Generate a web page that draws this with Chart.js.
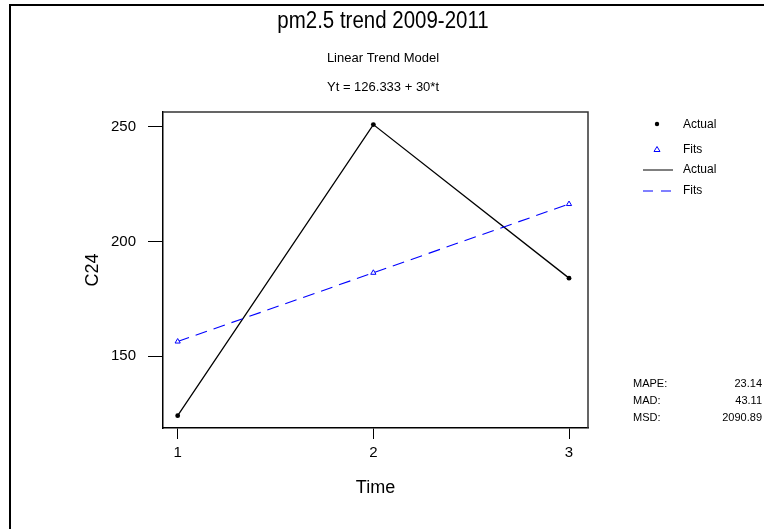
<!DOCTYPE html>
<html>
<head>
<meta charset="utf-8">
<script src="https://cdn.jsdelivr.net/npm/chart.js@4.4.1/dist/chart.umd.min.js"></script>
<style>
  html, body { margin: 0; padding: 0; background: #ffffff; }
  #wrap { width: 764px; height: 529px; position: relative; }
</style>
</head>
<body>
<div id="wrap"><canvas id="trend" width="764" height="529"></canvas></div>
<script>
// Observed series and fitted linear trend (Yt = 126.333 + 30*t)
const timeIndex = [1, 2, 3];
const actualValues = [124, 251, 184];
const fitValues = [156.333, 186.333, 216.333];

// Axis ticks
const xTickValues = [1, 2, 3];
const yTickValues = [150, 200, 250];

// Titles and accuracy measures
const chartTitle = 'pm2.5 trend 2009-2011';
const modelName = 'Linear Trend Model';
const modelEquation = 'Yt = 126.333 + 30*t';
const accuracyLabels = ['MAPE:', 'MAD:', 'MSD:'];
const accuracyValues = ['23.14', '43.11', '2090.89'];
const legendLabels = ['Actual', 'Fits', 'Actual', 'Fits'];

const FONT = '"Liberation Sans", Arial, sans-serif';
const BLUE = '#0000ff';

const toPoints = (xs, ys) => xs.map((x, i) => ({ x: x, y: ys[i] }));

// Frame, titles, legend and accuracy table drawn around the plot
const decorations = {
  id: 'decorations',
  afterDraw(chart) {
    const ctx = chart.ctx;
    const a = chart.chartArea;
    ctx.save();

    // outer frame
    ctx.strokeStyle = '#000';
    ctx.lineWidth = 2;
    ctx.beginPath();
    ctx.moveTo(10, 540);
    ctx.lineTo(10, 5);
    ctx.lineTo(780, 5);
    ctx.stroke();

    // top and right edges of the plot box
    ctx.lineWidth = 1.5;
    ctx.strokeStyle = '#333';
    ctx.beginPath();
    ctx.moveTo(a.left, a.top);
    ctx.lineTo(a.right, a.top);
    ctx.lineTo(a.right, a.bottom);
    ctx.stroke();

    // titles (main title in a slightly condensed face)
    ctx.fillStyle = '#000';
    ctx.textAlign = 'center';
    ctx.textBaseline = 'alphabetic';
    ctx.save();
    ctx.translate(383, 28);
    ctx.scale(0.89, 1);
    ctx.font = '23px ' + FONT;
    ctx.fillText(chartTitle, 0, 0);
    ctx.restore();
    ctx.font = '13px ' + FONT;
    ctx.fillText(modelName, 383, 62);
    ctx.fillText(modelEquation, 383, 91);

    // legend
    ctx.textAlign = 'left';
    ctx.textBaseline = 'middle';
    ctx.font = '12px ' + FONT;
    const lx = 683;
    const rows = [125, 150, 170, 191];
    ctx.fillStyle = '#000';
    ctx.beginPath();
    ctx.arc(657, rows[0] - 1, 2.2, 0, Math.PI * 2);
    ctx.fill();
    ctx.strokeStyle = BLUE;
    ctx.lineWidth = 1;
    ctx.beginPath();
    ctx.moveTo(657, rows[1] - 3.5);
    ctx.lineTo(660, rows[1] + 1.5);
    ctx.lineTo(654, rows[1] + 1.5);
    ctx.closePath();
    ctx.stroke();
    ctx.strokeStyle = '#000';
    ctx.beginPath();
    ctx.moveTo(643, rows[2]);
    ctx.lineTo(673, rows[2]);
    ctx.stroke();
    ctx.strokeStyle = BLUE;
    ctx.setLineDash([10, 8]);
    ctx.beginPath();
    ctx.moveTo(643, rows[3]);
    ctx.lineTo(673, rows[3]);
    ctx.stroke();
    ctx.setLineDash([]);
    ctx.fillStyle = '#000';
    legendLabels.forEach((t, i) => ctx.fillText(t, lx, rows[i]));

    // accuracy measures
    ctx.font = '11px ' + FONT;
    const sy = [384, 401, 418];
    accuracyLabels.forEach((t, i) => {
      ctx.textAlign = 'left';
      ctx.fillText(t, 633, sy[i]);
      ctx.textAlign = 'right';
      ctx.fillText(accuracyValues[i], 762, sy[i]);
    });
    ctx.restore();
  }
};

new Chart(document.getElementById('trend'), {
  type: 'line',
  data: {
    datasets: [
      {
        label: 'Fits',
        data: toPoints(timeIndex, fitValues),
        borderColor: BLUE,
        borderWidth: 1.1,
        borderDash: [12, 7],
        pointStyle: 'triangle',
        pointRadius: 3,
        pointBorderColor: BLUE,
        pointBackgroundColor: '#fff',
        pointBorderWidth: 1,
        tension: 0
      },
      {
        label: 'Actual',
        data: toPoints(timeIndex, actualValues),
        borderColor: '#000',
        borderWidth: 1.3,
        pointStyle: 'circle',
        pointRadius: 2.4,
        pointBorderWidth: 0,
        pointBackgroundColor: '#000',
        tension: 0
      }
    ]
  },
  options: {
    responsive: false,
    animation: false,
    layout: { padding: { left: 72, top: 112, right: 176, bottom: 29 } },
    plugins: { legend: { display: false }, tooltip: { enabled: false } },
    scales: {
      x: {
        type: 'linear',
        min: 0.925,
        max: 3.097,
        afterBuildTicks: s => { s.ticks = xTickValues.map(v => ({ value: v })); },
        afterFit: s => { s.height = 72; },
        ticks: { color: '#000', font: { family: FONT, size: 15 }, padding: 5, maxRotation: 0 },
        grid: { drawOnChartArea: false, drawTicks: true, tickLength: 11, color: '#000', lineWidth: 1 },
        border: { display: true, color: '#000', width: 1.5 },
        title: { display: true, text: 'Time', color: '#000', font: { family: FONT, size: 18 }, padding: { top: 0, bottom: 1 } }
      },
      y: {
        type: 'linear',
        min: 118.6,
        max: 256.5,
        afterBuildTicks: s => { s.ticks = yTickValues.map(v => ({ value: v })); },
        afterFit: s => { s.width = 91; },
        ticks: { color: '#000', font: { family: FONT, size: 15 }, padding: 12 },
        grid: { drawOnChartArea: false, drawTicks: true, tickLength: 15, color: '#000', lineWidth: 1 },
        border: { display: true, color: '#000', width: 1.5 },
        title: { display: true, text: 'C24', color: '#000', font: { family: FONT, size: 18 }, padding: { top: 10, bottom: 0 } }
      }
    }
  },
  plugins: [decorations]
});
</script>
</body>
</html>
